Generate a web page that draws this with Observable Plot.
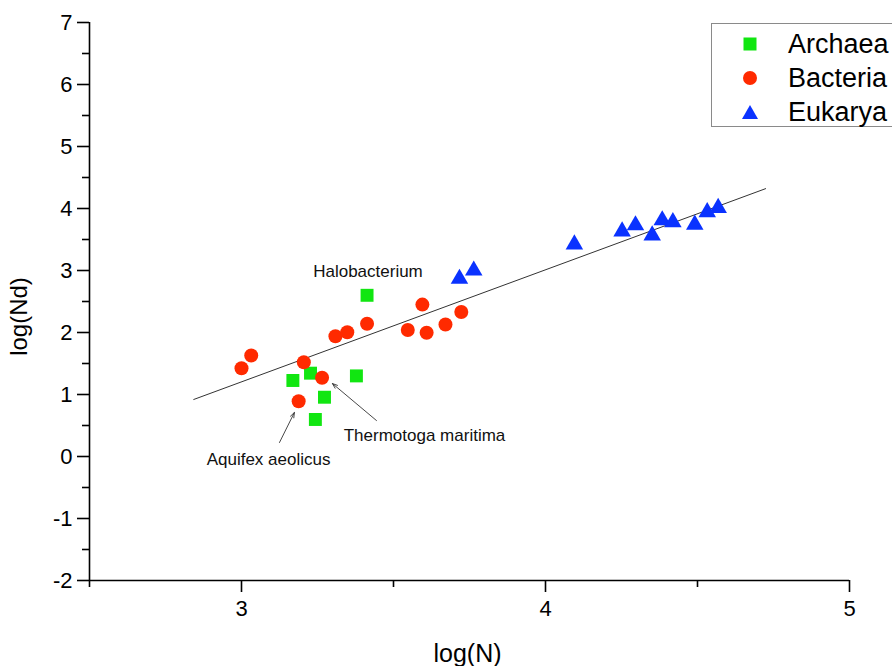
<!DOCTYPE html>
<html>
<head>
<meta charset="utf-8">
<script src="https://cdn.jsdelivr.net/npm/d3@7"></script>
<script src="https://cdn.jsdelivr.net/npm/@observablehq/plot@0.6"></script>
<style>
  html, body { margin: 0; padding: 0; background: #fff; overflow: hidden; }
  #wrap { position: relative; width: 892px; height: 666px; overflow: hidden; font-family: "Liberation Sans", Arial, sans-serif; }
  #legend { position: absolute; left: 711px; top: 23px; width: 220px; height: 104px; border: 1px solid #8a8a8a; background: #fff; box-sizing: border-box; }
  .li { position: absolute; left: 0; height: 34px; display: flex; align-items: center; font-size: 27px; color: #000; }
  .li svg { margin-left: 29px; margin-right: 29px; }
</style>
</head>
<body>
<div id="wrap"></div>
<script>
// ---- data ----
const archaeaX = [3.169, 3.227, 3.378, 3.273, 3.243, 3.413];
const archaeaY = [1.226, 1.344, 1.300, 0.956, 0.597, 2.600];

const bacteriaX = [3.000, 3.032, 3.205, 3.265, 3.188, 3.309, 3.348, 3.413, 3.547, 3.595, 3.609, 3.671, 3.723];
const bacteriaY = [1.424, 1.629, 1.520, 1.270, 0.890, 1.940, 2.005, 2.140, 2.040, 2.450, 1.995, 2.130, 2.330];

const eukaryaX = [3.717, 3.764, 4.095, 4.252, 4.296, 4.351, 4.384, 4.419, 4.491, 4.532, 4.568];
const eukaryaY = [2.866, 3.000, 3.420, 3.630, 3.730, 3.565, 3.810, 3.780, 3.740, 3.940, 4.010];

// linear fit line endpoints
const fitX = [2.843, 4.724];
const fitY = [0.920, 4.320];

// annotations
const annLabels = ["Halobacterium", "Thermotoga maritima", "Aquifex aeolicus"];
const annX = [3.416, 3.602, 3.089];
const annY = [2.985, 0.339, -0.048];
const arrowX1 = [3.444, 3.125];
const arrowY1 = [0.580, 0.226];
const arrowX2 = [3.299, 3.174];
const arrowY2 = [1.177, 0.710];

// ticks
const xMajorTicks = [3, 4, 5];
const xMinorTicks = [2.5, 3.5, 4.5];
const yMajorTicks = [-2, -1, 0, 1, 2, 3, 4, 5, 6, 7];
const yMinorTicks = [-1.5, -0.5, 0.5, 1.5, 2.5, 3.5, 4.5, 5.5, 6.5];

const legendLabels = ["Archaea", "Bacteria", "Eukarya"];
const colors = { Archaea: "#11e611", Bacteria: "#ff2a00", Eukarya: "#0a32ff" };

// ---- build tables ----
const archaea = archaeaX.map((x, i) => ({ x, y: archaeaY[i] }));
const bacteria = bacteriaX.map((x, i) => ({ x, y: bacteriaY[i] }));
const eukarya = eukaryaX.map((x, i) => ({ x, y: eukaryaY[i] }));
const fit = fitX.map((x, i) => ({ x, y: fitY[i] }));
const ann = annLabels.map((t, i) => ({ t, x: annX[i], y: annY[i] }));
const arrows = arrowX1.map((x1, i) => ({ x1, y1: arrowY1[i], x2: arrowX2[i], y2: arrowY2[i] }));

const font = "Liberation Sans, Arial, sans-serif";
const axisStroke = { stroke: "#000", strokeWidth: 1.6 };

const chart = Plot.plot({
  width: 892,
  height: 666,
  marginLeft: 89,
  marginRight: 43,
  marginTop: 22,
  marginBottom: 86,
  style: { fontFamily: font, background: "#fff", color: "#000" },
  x: { domain: [2.5, 5] },
  y: { domain: [-2, 7] },
  marks: [
    Plot.ruleX([2.5], axisStroke),
    Plot.ruleY([-2], axisStroke),
    Plot.axisX({ ticks: xMajorTicks, tickSize: 12, tickPadding: 8, fontSize: 22, label: null, tickFormat: d => String(d), ...axisStroke }),
    Plot.axisX({ ticks: xMinorTicks, tickSize: 7, label: null, tickFormat: () => "", ...axisStroke }),
    Plot.axisY({ ticks: yMajorTicks, tickSize: 12, tickPadding: 5, fontSize: 22, label: null, tickFormat: d => String(d), ...axisStroke }),
    Plot.axisY({ ticks: yMinorTicks, tickSize: 7, label: null, tickFormat: () => "", ...axisStroke }),
    Plot.text(["log(N)"], { frameAnchor: "bottom", dy: 73, dx: -2, lineAnchor: "middle", textAnchor: "middle", fontSize: 25, fill: "#000" }),
    Plot.text(["log(Nd)"], { frameAnchor: "left", dx: -70, dy: 15, rotate: -90, textAnchor: "middle", lineAnchor: "middle", fontSize: 24, fill: "#000" }),
    Plot.line(fit, { x: "x", y: "y", stroke: "#333", strokeWidth: 1 }),
    Plot.dot(archaea, { x: "x", y: "y", symbol: "square", r: 7.3, fill: colors.Archaea, stroke: "none" }),
    Plot.dot(bacteria, { x: "x", y: "y", symbol: "circle", r: 7, fill: colors.Bacteria, stroke: "none" }),
    Plot.dot(eukarya, { x: "x", y: "y", symbol: "triangle", r: 6.5, fill: colors.Eukarya, stroke: "none" }),
    Plot.arrow(arrows, { x1: "x1", y1: "y1", x2: "x2", y2: "y2", stroke: "#333", strokeWidth: 0.9, headLength: 9, headAngle: 40 }),
    Plot.text(ann, { x: "x", y: "y", text: "t", fontSize: 17, fill: "#111" })
  ]
});

const wrap = document.getElementById("wrap");
wrap.appendChild(chart);

// legend
const legend = document.createElement("div");
legend.id = "legend";
const shapes = {
  Archaea: `<svg width="18" height="16"><rect x="2.5" y="1.5" width="13" height="13" fill="${colors.Archaea}"/></svg>`,
  Bacteria: `<svg width="18" height="16"><circle cx="9" cy="8" r="7" fill="${colors.Bacteria}"/></svg>`,
  Eukarya: `<svg width="18" height="16"><path d="M9 1 L17 15 L1 15 Z" fill="${colors.Eukarya}"/></svg>`
};
legendLabels.forEach((lab, i) => {
  const row = document.createElement("div");
  row.className = "li";
  row.style.top = (3 + i * 34) + "px";
  row.innerHTML = shapes[lab] + `<span>${lab}</span>`;
  legend.appendChild(row);
});
wrap.appendChild(legend);
</script>
</body>
</html>
